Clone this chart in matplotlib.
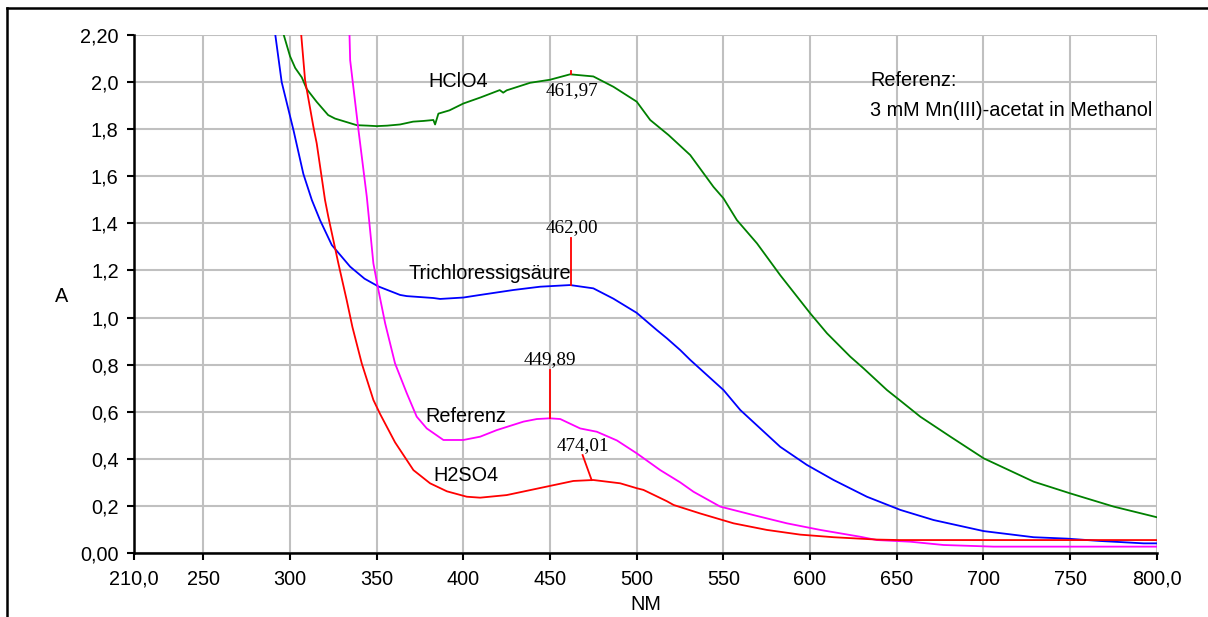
import matplotlib
matplotlib.use("Agg")
import matplotlib.pyplot as plt
from matplotlib.lines import Line2D

# --- data (wavelength in nm, absorbance A) ---
hclo4_nm = [296, 300, 303, 306.8, 309.7, 315.4, 322, 326, 332.7, 338.5, 345, 350,
            356, 363.5, 371, 377, 382.7, 383.7, 385.6, 392, 400, 410, 421, 423,
            425, 438.5, 450, 461.6, 475, 486.6, 500, 507.8, 518.4, 530.9, 544.3,
            550.1, 557.8, 569.4, 582.8, 600.1, 609.8, 623.2, 630.9, 644.4, 652.1,
            663.6, 681, 700.2, 729, 750.2, 775.2, 800]
hclo4_a = [2.21, 2.11, 2.06, 2.02, 1.97, 1.916, 1.86, 1.845, 1.83, 1.817, 1.815, 1.813,
           1.815, 1.82, 1.832, 1.835, 1.839, 1.82, 1.866, 1.88, 1.909, 1.935, 1.966, 1.955,
           1.965, 1.997, 2.01, 2.033, 2.024, 1.98, 1.917, 1.839, 1.775, 1.69, 1.555,
           1.506, 1.414, 1.315, 1.18, 1.018, 0.933, 0.834, 0.784, 0.692, 0.647,
           0.579, 0.494, 0.402, 0.303, 0.253, 0.197, 0.152]

tca_nm = [291.4, 295.2, 302, 307.7, 312.6, 317.3, 324.1, 334.7, 343, 351, 363.5, 367.4,
          382.7, 386.6, 400, 409.7, 428.9, 444.3, 461.6, 475, 486.6, 500, 511.6, 517.4,
          525.1, 530.9, 550.1, 559.8, 582.8, 598.2, 613.6, 632.8, 652.1, 671.3, 700.2,
          729, 748.3, 767.5, 792.5, 800]
tca_a = [2.207, 2.0, 1.796, 1.61, 1.499, 1.414, 1.308, 1.216, 1.165, 1.132, 1.096, 1.091,
         1.083, 1.079, 1.085, 1.096, 1.117, 1.131, 1.138, 1.124, 1.08, 1.02, 0.947, 0.912,
         0.862, 0.82, 0.692, 0.607, 0.451, 0.374, 0.31, 0.239, 0.183, 0.14, 0.093,
         0.067, 0.061, 0.051, 0.041, 0.041]

h2so4_nm = [306.4, 308.7, 313.5, 315.4, 320.2, 322.1, 327.9, 332.7, 336, 341.4, 348.1,
            352, 360.6, 371.2, 380.8, 390.5, 402, 409.7, 425, 448.1, 463.5, 475, 490.5,
            500.1, 503.9, 517.4, 521.3, 536.6, 555.9, 575.1, 594.4, 613.6, 638.6, 652, 800]
h2so4_a = [2.207, 2.008, 1.81, 1.74, 1.499, 1.428, 1.23, 1.074, 0.96, 0.805, 0.65,
           0.59, 0.47, 0.352, 0.296, 0.262, 0.239, 0.235, 0.246, 0.282, 0.306, 0.31, 0.296,
           0.275, 0.268, 0.22, 0.204, 0.168, 0.126, 0.098, 0.078, 0.067, 0.057, 0.055, 0.055]

ref_nm = [334.3, 334.7, 339.5, 344.3, 348.1, 351, 354.9, 360.6, 367.4, 373.1, 378.9,
          388.5, 400, 409.7, 419.3, 434.7, 442.4, 449.9, 455.9, 467.4, 477, 488.6, 500.1,
          513.6, 525.1, 532.8, 548.2, 567.4, 586.7, 605.9, 629, 638.6, 657.8, 677, 705.9, 800]
ref_a = [2.207, 2.093, 1.796, 1.513, 1.23, 1.117, 0.975, 0.805, 0.678, 0.579, 0.529,
         0.48, 0.48, 0.494, 0.522, 0.558, 0.569, 0.572, 0.569, 0.529, 0.515, 0.478, 0.423,
         0.352, 0.30, 0.26, 0.197, 0.161, 0.126, 0.098, 0.069, 0.055, 0.048, 0.034, 0.027, 0.027]

x_ticks = [210, 250, 300, 350, 400, 450, 500, 550, 600, 650, 700, 750, 800]
x_labels = ["210,0", "250", "300", "350", "400", "450", "500", "550", "600", "650",
            "700", "750", "800,0"]
y_ticks = [0.0, 0.2, 0.4, 0.6, 0.8, 1.0, 1.2, 1.4, 1.6, 1.8, 2.0, 2.2]
y_labels = ["0,00", "0,2", "0,4", "0,6", "0,8", "1,0", "1,2", "1,4", "1,6", "1,8",
            "2,0", "2,20"]

SANS = "Liberation Sans"
SERIF = "Liberation Serif"
FS = 14.3
FS_NUM = 13.8

fig = plt.figure(figsize=(12.08, 6.17), dpi=100)
ax = fig.add_axes([134 / 1208, 1 - 553 / 617, (1156.7 - 134) / 1208, (553 - 35) / 617])

ax.set_xlim(210, 800)
ax.set_ylim(0, 2.2)
ax.set_xticks(x_ticks)
ax.set_xticklabels(x_labels, fontfamily=SANS, fontsize=FS)
ax.set_yticks(y_ticks)
ax.set_yticklabels(y_labels, fontfamily=SANS, fontsize=FS)
ax.tick_params(axis="both", direction="out", length=5, width=1.5, color="black", pad=6)
ax.tick_params(axis="x", pad=7)
ax.grid(True, color="#c0c0c0", linewidth=1.5)
ax.set_axisbelow(True)
for side in ("top", "right"):
    ax.spines[side].set_visible(False)
for side in ("left", "bottom"):
    ax.spines[side].set_linewidth(1.8)
    ax.spines[side].set_zorder(5)

lw = 1.3
ax.plot(hclo4_nm, hclo4_a, color="#008000", linewidth=lw)
ax.plot(tca_nm, tca_a, color="#0000ff", linewidth=lw)
ax.plot(ref_nm, ref_a, color="#ff00ff", linewidth=lw)
ax.plot(h2so4_nm, h2so4_a, color="#ff0000", linewidth=lw)

# peak markers
ax.plot([461.97, 461.97], [2.033, 2.048], color="red", linewidth=1.3)
ax.text(462.6, 1.966, "461,97", fontfamily=SERIF, fontsize=FS_NUM, ha="center", va="center")
ax.plot([462.0, 462.0], [1.138, 1.338], color="red", linewidth=1.3)
ax.text(462.6, 1.381, "462,00", fontfamily=SERIF, fontsize=FS_NUM, ha="center", va="center")
ax.plot([449.89, 449.89], [0.572, 0.777], color="red", linewidth=1.3)
ax.text(449.9, 0.82, "449,89", fontfamily=SERIF, fontsize=FS_NUM, ha="center", va="center")
ax.plot([468.8, 474.01], [0.416, 0.31], color="red", linewidth=1.3)
ax.text(468.8, 0.455, "474,01", fontfamily=SERIF, fontsize=FS_NUM, ha="center", va="center")

# curve labels
ax.text(379.7, 2.001, "HClO4", fontfamily=SANS, fontsize=FS, va="center")
ax.text(368.1, 1.189, "Trichloressigsäure", fontfamily=SANS, fontsize=FS, va="center")
ax.text(377.9, 0.579, "Referenz", fontfamily=SANS, fontsize=FS, va="center")
ax.text(382.6, 0.331, "H2SO4", fontfamily=SANS, fontsize=FS, va="center")
ax.text(634.8, 2.008, "Referenz:", fontfamily=SANS, fontsize=FS, va="center")
ax.text(634.8, 1.881, "3 mM Mn(III)-acetat in Methanol", fontfamily=SANS, fontsize=FS,
        va="center")

fig.text(62 / 1208, 1 - 297 / 617, "A", fontfamily=SANS, fontsize=FS, ha="center", va="center")
fig.text(646 / 1208, 1 - 605 / 617, "NM", fontfamily=SANS, fontsize=FS, ha="center", va="center")

# outer frame (top and left edges)
fig.add_artist(Line2D([7 / 1208, 1], [1 - 8 / 617, 1 - 8 / 617], color="black", linewidth=1.8,
                      transform=fig.transFigure))
fig.add_artist(Line2D([7 / 1208, 7 / 1208], [0, 1 - 8 / 617], color="black", linewidth=1.8,
                      transform=fig.transFigure))

fig.savefig("out.png", dpi=100)
